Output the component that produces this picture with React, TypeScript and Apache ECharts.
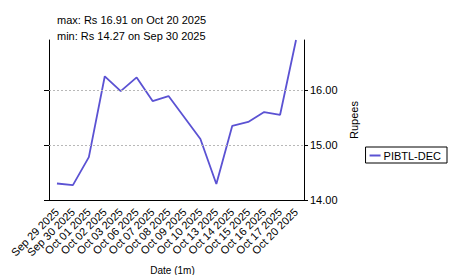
import React, { useEffect, useRef } from "react";
import * as echarts from "echarts";

const categories = [
  "Sep 29 2025", "Sep 30 2025", "Oct 01 2025", "Oct 02 2025", "Oct 03 2025",
  "Oct 06 2025", "Oct 07 2025", "Oct 08 2025", "Oct 09 2025", "Oct 10 2025",
  "Oct 13 2025", "Oct 14 2025", "Oct 15 2025", "Oct 16 2025", "Oct 17 2025",
  "Oct 20 2025",
];
const prices = [
  14.30, 14.27, 14.78, 16.25, 15.98, 16.23, 15.80, 15.89, 15.50, 15.11,
  14.29, 15.35, 15.42, 15.60, 15.55, 16.91,
];
const yTicks = [14, 15, 16];
const seriesName = "PIBTL-DEC";
const titleLines = ["max: Rs 16.91 on Oct 20 2025", "min: Rs 14.27 on Sep 30 2025"];
const yMin = 14;
const yMax = 16.91;

const FONT = "Liberation Sans, Arial, sans-serif";
const LINE_COLOR = "#5b52d3";

export default function App() {
  const ref = useRef<HTMLDivElement>(null);
  useEffect(() => {
    document.body.style.margin = "0";
    const chart = echarts.init(ref.current!, null, { renderer: "svg" });
    chart.setOption({
      animation: false,
      textStyle: { fontFamily: FONT, color: "#000" },
      graphic: titleLines.map((t, i) => ({
        type: "text",
        left: 57,
        top: 14 + i * 16,
        silent: true,
        style: { text: t, fontFamily: FONT, fontSize: 11, fill: "#000" },
      })),
      legend: {
        data: [seriesName],
        right: 3,
        top: 147,
        orient: "vertical",
        icon: "rect",
        itemWidth: 11,
        itemHeight: 2,
        itemGap: 0,
        padding: [3, 6, 2, 4],
        borderColor: "#000",
        borderWidth: 1,
        borderRadius: 0,
        textStyle: { fontFamily: FONT, fontSize: 11, color: "#000", padding: [0, 0, 0, -2] },
      },
      grid: { left: 49, right: 146, top: 40, bottom: 75, containLabel: false, outerBoundsMode: "none" },
      xAxis: {
        type: "category",
        data: categories,
        boundaryGap: true,
        name: "Date (1m)",
        nameLocation: "middle",
        nameGap: 65,
        nameTextStyle: { fontFamily: FONT, fontSize: 10, color: "#000", padding: [0, 8, 0, 0] },
        axisLine: { lineStyle: { color: "#000", width: 1 } },
        axisTick: { alignWithLabel: true, length: 4, lineStyle: { color: "#000" } },
        axisLabel: { rotate: 45, interval: 0, fontSize: 11, margin: 10, color: "#000", fontFamily: FONT },
        splitLine: { show: false },
      },
      yAxis: [
        {
          type: "value",
          position: "right",
          min: yMin,
          max: yMax,
          interval: 1,
          name: "Rupees",
          nameLocation: "middle",
          nameRotate: 90,
          nameGap: 41,
          nameTextStyle: { fontFamily: FONT, fontSize: 11, color: "#000" },
          axisLine: { show: true, lineStyle: { color: "#000", width: 1 } },
          axisTick: { show: true, length: 4, customValues: yTicks, lineStyle: { color: "#000" } },
          axisLabel: {
            customValues: yTicks,
            fontSize: 11,
            margin: 6,
            color: "#000",
            fontFamily: FONT,
            formatter: (v: number) => v.toFixed(2),
          },
          splitLine: { show: false },
        },
        {
          type: "value",
          position: "left",
          min: yMin,
          max: yMax,
          interval: 1,
          axisLine: { show: true, lineStyle: { color: "#000", width: 1 } },
          axisTick: { show: true, length: 5, customValues: yTicks, lineStyle: { color: "#000" } },
          axisLabel: { show: false },
          splitLine: { show: false },
        },
      ],
      series: [
        {
          name: seriesName,
          type: "line",
          data: prices,
          yAxisIndex: 0,
          symbol: "none",
          lineStyle: { color: LINE_COLOR, width: 1.8 },
          itemStyle: { color: LINE_COLOR },
          markLine: {
            silent: true,
            symbol: "none",
            label: { show: false },
            lineStyle: { color: "#b8b8b8", type: [2, 2], width: 1 },
            data: yTicks.filter((t) => t > yMin).map((t) => ({ yAxis: t })),
          },
          z: 3,
        },
      ],
    });
    return () => chart.dispose();
  }, []);
  return <div ref={ref} style={{ position: "absolute", left: 0, top: 0, width: 450, height: 275 }} />;
}
